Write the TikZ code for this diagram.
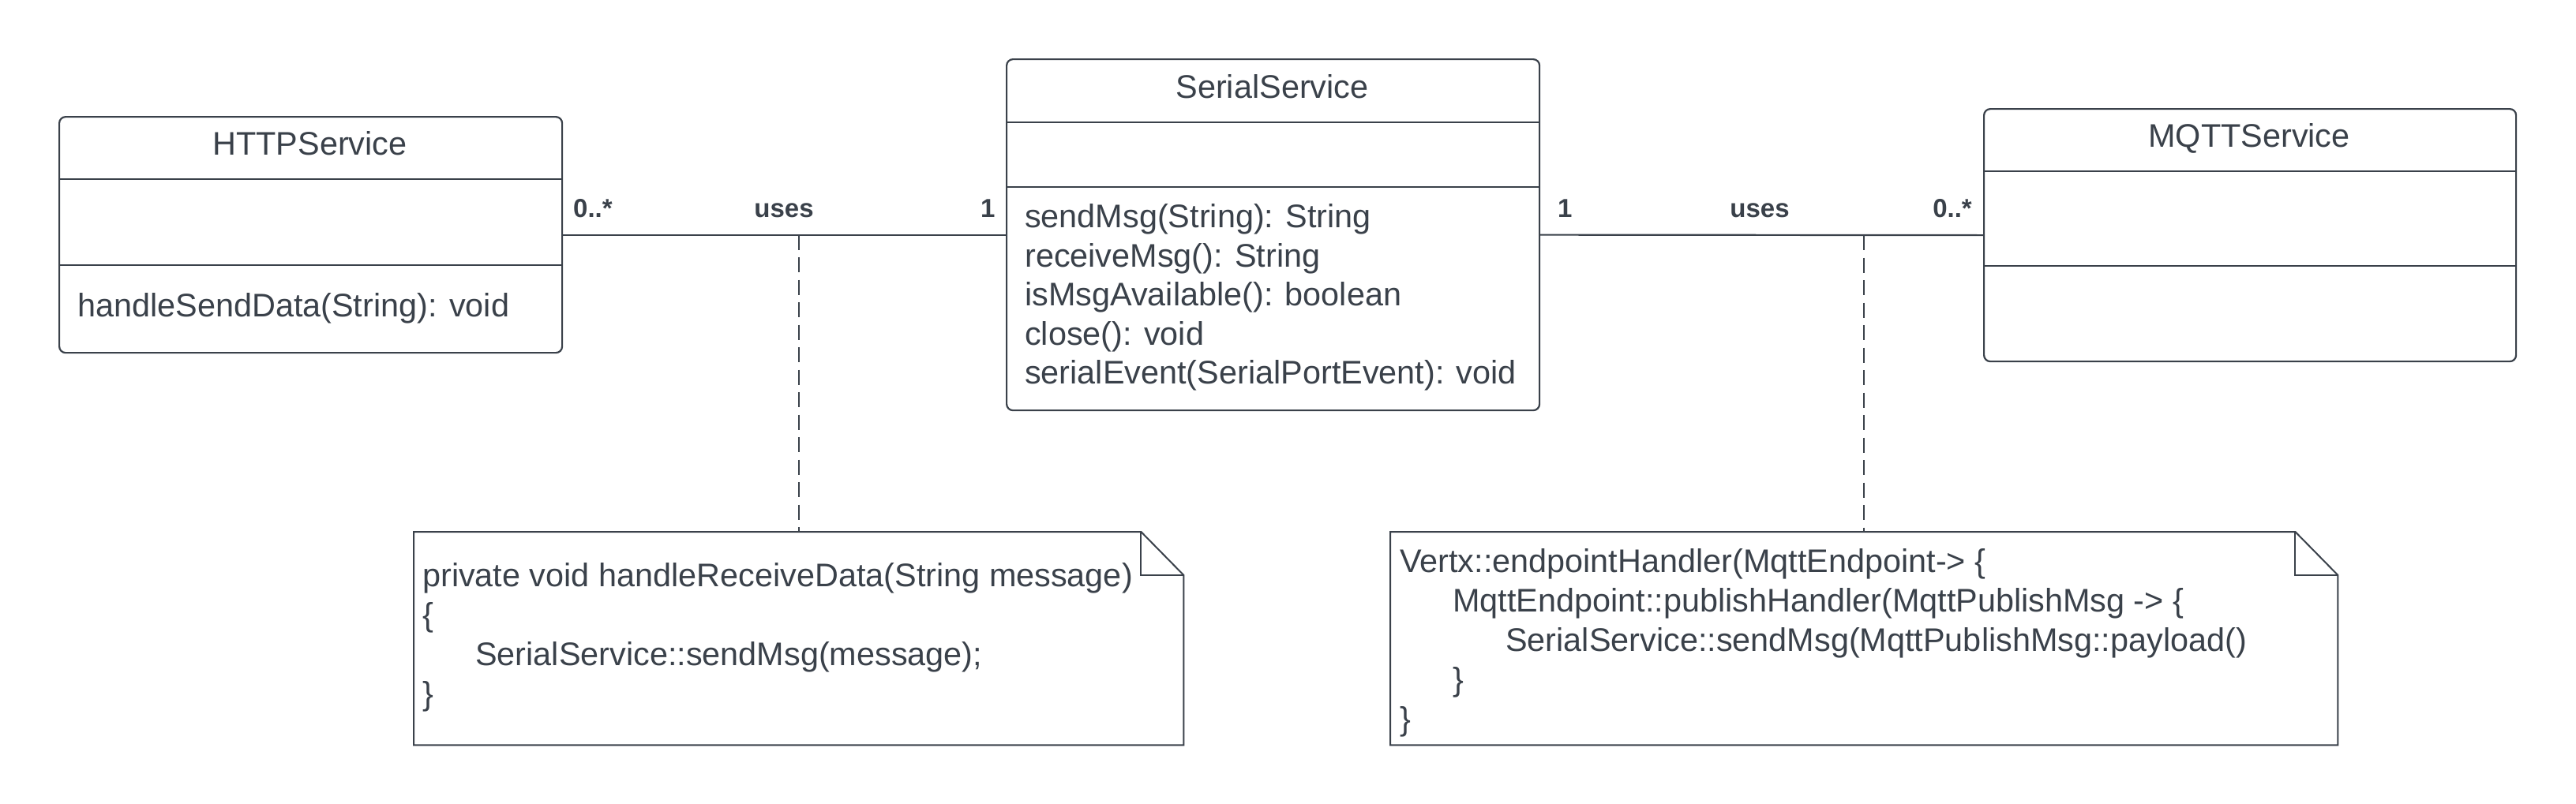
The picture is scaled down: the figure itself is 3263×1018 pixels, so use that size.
\documentclass[tikz,border=0pt]{standalone}
\usepackage{fontspec}
\setmainfont{Liberation Sans}
\definecolor{ink}{RGB}{58,65,74}
\begin{document}
\begin{tikzpicture}[x=1pt,y=-1pt,
  classbox/.style={draw=ink, line width=2.2pt, rounded corners=8pt, inner sep=0pt, anchor=north west},
  divider/.style={draw=ink, line width=2.2pt},
  assoc/.style={draw=ink, line width=2.2pt},
  noteline/.style={draw=ink, line width=2pt, line join=miter},
  dashconn/.style={draw=ink, line width=2pt, dash pattern=on 19pt off 9.5pt},
  txt/.style={text=ink, font=\fontsize{41.4}{50}\selectfont, inner sep=0pt, text height=30pt, text depth=9pt},
  mult/.style={text=ink, font=\bfseries\fontsize{33}{40}\selectfont, inner sep=0pt, text height=24pt, text depth=0pt},
  notetxt/.style={text=ink, font=\fontsize{41.4}{50}\selectfont, inner sep=0pt, align=left, anchor=west}
]
\useasboundingbox (0,0) rectangle (3263,1018);
\fill[white] (0,0) rectangle (3263,1018);

% class boxes
\node[classbox, minimum width=637pt, minimum height=299pt] (http) at (74,147) {};
\node[classbox, minimum width=675pt, minimum height=445pt] (serial) at (1274,74) {};
\node[classbox, minimum width=674pt, minimum height=320pt] (mqtt) at (2512,137) {};

% dividers
\draw[divider] (http.west |- 0,227) -- (http.east |- 0,227);
\draw[divider] (http.west |- 0,336) -- (http.east |- 0,336);
\draw[divider] (serial.west |- 0,155) -- (serial.east |- 0,155);
\draw[divider] (serial.west |- 0,237) -- (serial.east |- 0,237);
\draw[divider] (mqtt.west |- 0,217) -- (mqtt.east |- 0,217);
\draw[divider] (mqtt.west |- 0,337) -- (mqtt.east |- 0,337);

% titles
\node[txt] (httpT) at (392.5,186) {HTTPService};
\node[txt] (serialT) at (1611.5,114) {SerialService};
\node[txt] (mqttT) at (2849,176) {MQTTService};

% methods
\node[txt, anchor=west] (httpM1) at (98,391) {handleSendData(String): void};
\node[txt, anchor=west] (serM1) at (1298,278) {sendMsg(String): String};
\node[txt, anchor=west] (serM2) at (1298,328) {receiveMsg(): String};
\node[txt, anchor=west] (serM3) at (1298,377) {isMsgAvailable(): boolean};
\node[txt, anchor=west] (serM4) at (1298,427) {close(): void};
\node[txt, anchor=west] (serM5) at (1298,476) {serialEvent(SerialPortEvent): void};

% associations
\draw[assoc] (http.east) -- (serial.west);
\draw[assoc] (serial.east) -- (mqtt.west);

\node[mult, anchor=west] (m1) at (726,263) {0..*};
\node[mult] (u1) at (993,263) {uses};
\node[mult, anchor=west] (m2) at (1242,263) {1};
\node[mult, anchor=west] (m3) at (1973,263) {1};
\node[mult] (u2) at (2229,263) {uses};
\node[mult, anchor=east] (m4) at (2498,263) {0..*};

% notes (frames)
\node[anchor=north west, minimum width=975pt, minimum height=270pt, inner sep=0pt] (n1) at (524,674) {};
\node[anchor=north west, minimum width=1200pt, minimum height=270pt, inner sep=0pt] (n2) at (1761,674) {};

\draw[noteline] (n1.north west) -- ([xshift=-54pt]n1.north east) -- ([yshift=-55pt]n1.north east) -- (n1.south east) -- (n1.south west) -- cycle;
\draw[noteline] ([xshift=-54pt]n1.north east) -- ([xshift=-54pt,yshift=-55pt]n1.north east) -- ([yshift=-55pt]n1.north east);
\draw[noteline] (n2.north west) -- ([xshift=-54pt]n2.north east) -- ([yshift=-55pt]n2.north east) -- (n2.south east) -- (n2.south west) -- cycle;
\draw[noteline] ([xshift=-54pt]n2.north east) -- ([xshift=-54pt,yshift=-55pt]n2.north east) -- ([yshift=-55pt]n2.north east);

% note anchors on association lines
\coordinate (a1) at (n1.north |- http.east);
\coordinate (a2) at (n2.north |- mqtt.west);
\draw[dashconn] (a1) -- (n1.north);
\draw[dashconn] (a2) -- (n2.north);

% note texts
\node[notetxt] (n1t) at (535,808) {private void handleReceiveData(String message)\\
{\{}\\
\hspace*{67pt}SerialService::sendMsg(message);\\
{\}}};
\node[notetxt] (n2t) at (1773,815) {Vertx::endpointHandler(MqttEndpoint-> \{\\
\hspace*{67pt}MqttEndpoint::publishHandler(MqttPublishMsg -> \{\\
\hspace*{134pt}SerialService::sendMsg(MqttPublishMsg::payload()\\
\hspace*{67pt}\}\\
\}};
\end{tikzpicture}
\end{document}
